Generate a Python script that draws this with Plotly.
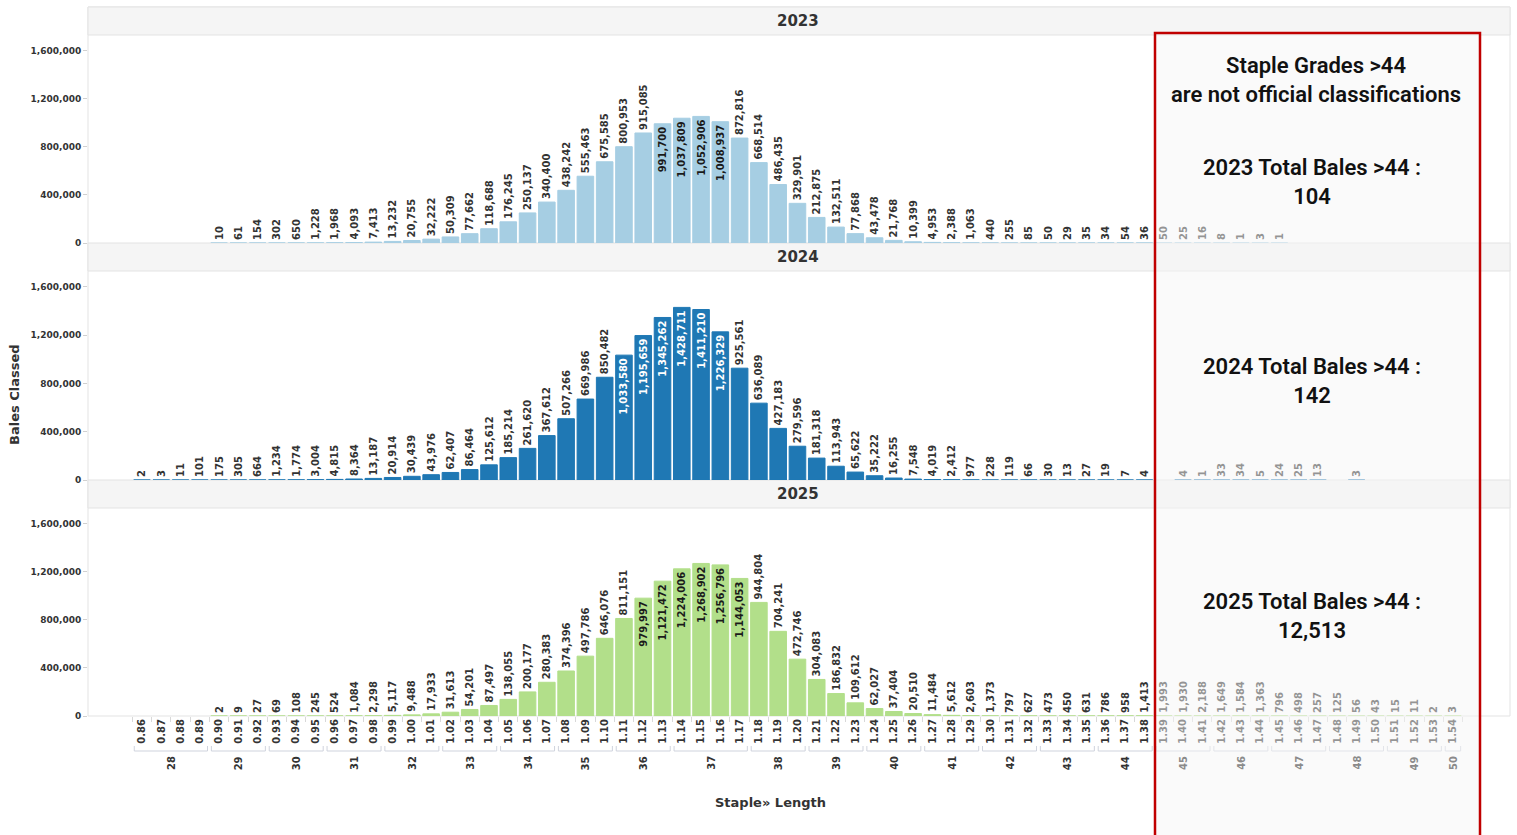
import plotly.graph_objects as go
from plotly.subplots import make_subplots

# ---------------- data ----------------
LENGTHS = ["0.86", "0.87", "0.88", "0.89", "0.90", "0.91", "0.92", "0.93", "0.94", "0.95",
           "0.96", "0.97", "0.98", "0.99", "1.00", "1.01", "1.02", "1.03", "1.04", "1.05",
           "1.06", "1.07", "1.08", "1.09", "1.10", "1.11", "1.12", "1.13", "1.14", "1.15",
           "1.16", "1.17", "1.18", "1.19", "1.20", "1.21", "1.22", "1.23", "1.24", "1.25",
           "1.26", "1.27", "1.28", "1.29", "1.30", "1.31", "1.32", "1.33", "1.34", "1.35",
           "1.36", "1.37", "1.38", "1.39", "1.40", "1.41", "1.42", "1.43", "1.44", "1.45",
           "1.46", "1.47", "1.48", "1.49", "1.50", "1.51", "1.52", "1.53", "1.54"]

STAPLE = [28, 28, 28, 28, 29, 29, 29, 30, 30, 30,
          31, 31, 31, 32, 32, 32, 33, 33, 33, 34,
          34, 34, 35, 35, 35, 36, 36, 36, 37, 37,
          37, 37, 38, 38, 38, 39, 39, 39, 40, 40,
          40, 41, 41, 41, 42, 42, 42, 43, 43, 43,
          44, 44, 44, 45, 45, 45, 46, 46, 46, 47,
          47, 47, 48, 48, 48, 49, 49, 49, 50]

YEARS = ["2023", "2024", "2025"]

BALES_2023 = [None, None, None, None, 10, 61, 154, 302, 650, 1228,
              1968, 4093, 7413, 13232, 20755, 32222, 50309, 77662, 118688, 176245,
              250137, 340400, 438242, 555463, 675585, 800953, 915085, 991700, 1037809, 1052906,
              1008937, 872816, 668514, 486435, 329901, 212875, 132511, 77868, 43478, 21768,
              10399, 4953, 2388, 1063, 440, 255, 85, 50, 29, 35,
              34, 54, 36, 50, 25, 16, 8, 1, 3, 1,
              None, None, None, None, None, None, None, None, None]

BALES_2024 = [2, 3, 11, 101, 175, 305, 664, 1234, 1774, 3004,
              4815, 8364, 13187, 20914, 30439, 43976, 62407, 86464, 125612, 185214,
              261620, 367612, 507266, 669986, 850482, 1033580, 1195659, 1345262, 1428711, 1411210,
              1226329, 925561, 636089, 427183, 279596, 181318, 113943, 65622, 35222, 16255,
              7548, 4019, 2412, 977, 228, 119, 66, 30, 13, 27,
              19, 7, 4, None, 4, 1, 33, 34, 5, 24,
              25, 13, None, 3, None, None, None, None, None]

BALES_2025 = [None, None, None, None, 2, 9, 27, 69, 108, 245,
              524, 1084, 2298, 5117, 9488, 17933, 31613, 54201, 87497, 138055,
              200177, 280383, 374396, 497786, 646076, 811151, 979997, 1121472, 1224006, 1268902,
              1256796, 1144053, 944804, 704241, 472746, 304083, 186832, 109612, 62027, 37404,
              20510, 11484, 5612, 2603, 1373, 797, 627, 473, 450, 631,
              786, 958, 1413, 1993, 1930, 2188, 1649, 1584, 1363, 796,
              498, 257, 125, 56, 43, 15, 11, 2, 3]

SERIES = [BALES_2023, BALES_2024, BALES_2025]
Y_TICKS = [0, 400000, 800000, 1200000, 1600000]
OFFICIAL_MAX = 44

# ---------------- style ----------------
COLORS = ["#a6cee3", "#1f78b4", "#b2df8a"]
INSIDE_TEXT = ["#1a1a1a", "#ffffff", "#1a1a1a"]
INSIDE_MIN = 950000
W, H = 1517, 835
L, R, T, B = 88, 1517 - 1510, 35, 835 - 716
PLOT_H = H - T - B
PLOT_W = W - L - R
LABEL_FONT = "DejaVu Sans"
BOX_FONT = dict(family="Roboto", size=22, color="#111111", weight=600)


def py(px):
    return (H - B - px) / PLOT_H


def pxx(px):
    return (px - L) / PLOT_W


ROW_PX = [(35, 243), (271, 480), (508, 716)]
HEAD_PX = [(7, 35), (243, 271), (480, 508)]

fig = make_subplots(rows=3, cols=1, shared_xaxes=True, vertical_spacing=0.04)

for i, (year, vals) in enumerate(zip(YEARS, SERIES)):
    xs = [LENGTHS[k] for k, v in enumerate(vals) if v is not None]
    ys = [v for v in vals if v is not None]
    fig.add_trace(go.Bar(
        x=xs, y=ys,
        text=[f"{v:,}" for v in ys],
        textposition=["inside" if v > INSIDE_MIN else "outside" for v in ys],
        insidetextanchor="end",
        textangle=-90,
        constraintext="none",
        cliponaxis=False,
        insidetextfont=dict(family=LABEL_FONT, size=10, color=INSIDE_TEXT[i], weight="bold"),
        outsidetextfont=dict(family=LABEL_FONT, size=10, color="#333333", weight="bold"),
        marker=dict(color=COLORS[i], line=dict(color=COLORS[i], width=1)),
        name=year, showlegend=False,
        hovertemplate="%{x}: %{y:,}<extra>" + year + "</extra>",
    ), row=i + 1, col=1)

x_range = [-2.8, len(LENGTHS) - 1 + 2.96]
for i in range(3):
    ax = "xaxis" if i == 0 else f"xaxis{i + 1}"
    ay = "yaxis" if i == 0 else f"yaxis{i + 1}"
    top, bot = ROW_PX[i]
    fig.layout[ay].update(
        domain=[py(bot), py(top)], range=[0, 1730000],
        tickvals=Y_TICKS, tickformat=",", showgrid=False, zeroline=False,
        ticks="outside", ticklen=4, tickcolor="#d0d0d0",
        tickfont=dict(family=LABEL_FONT, size=9, color="#333333", weight="bold"),
    )
    fig.layout[ax].update(
        type="category", categoryorder="array", categoryarray=LENGTHS,
        range=x_range, showgrid=False, zeroline=False, showline=False,
    )
    if i < 2:
        fig.layout[ax].update(showticklabels=False, ticks="")
    else:
        fig.layout[ax].update(
            tickangle=-90, ticks="outside", ticklen=5, tickcolor="#d8d8d8",
            tickson="boundaries", tickvals=LENGTHS,
            tickfont=dict(family=LABEL_FONT, size=10, color="#333333", weight="bold"),
        )

shapes = []
annotations = []

# outer frame
shapes.append(dict(type="rect", xref="paper", yref="paper", x0=0, x1=1,
                   y0=py(716), y1=py(7), line=dict(color="#e3e3e3", width=1),
                   fillcolor="rgba(0,0,0,0)", layer="below"))
for i, (h0, h1) in enumerate(HEAD_PX):
    shapes.append(dict(type="rect", xref="paper", yref="paper", x0=0, x1=1,
                       y0=py(h1), y1=py(h0), line=dict(color="#e3e3e3", width=1),
                       fillcolor="#f5f5f5", layer="below"))
    annotations.append(dict(text=f"<b>{YEARS[i]}</b>", xref="paper", yref="paper",
                            x=pxx(798), y=py((h0 + h1) / 2), xanchor="center", yanchor="middle",
                            showarrow=False,
                            font=dict(family=LABEL_FONT, size=15, color="#333333")))

# staple (32nds) group labels with brackets
groups = []
for k, s in enumerate(STAPLE):
    if not groups or groups[-1][0] != s:
        groups.append([s, k, k])
    else:
        groups[-1][2] = k
yb, yt = py(751), py(746)
for s, k0, k1 in groups:
    a, b = k0 - 0.4, k1 + 0.4
    shapes.append(dict(type="path", xref="x3", yref="paper",
                       path=f"M {a},{yt} L {a},{yb} L {b},{yb} L {b},{yt}",
                       line=dict(color="#cfd3dd", width=1)))
    annotations.append(dict(text=f"<b>{s}</b>", xref="x3", yref="paper",
                            x=(k0 + k1) / 2, y=py(754), xanchor="center", yanchor="top",
                            textangle=-90, showarrow=False,
                            font=dict(family=LABEL_FONT, size=10,
                                      color="#333333" if s <= OFFICIAL_MAX else "#8a8a8a")))

# non-official region overlay + red box
shapes.append(dict(type="rect", xref="paper", yref="paper", x0=pxx(1155), x1=pxx(1480),
                   y0=py(850), y1=py(33), fillcolor="rgba(246,246,246,0.5)",
                   line=dict(color="#c00000", width=2.5), layer="above"))

annotations.append(dict(text="Staple Grades >44<br>are not official classifications",
                        xref="paper", yref="paper", x=pxx(1316), y=py(80),
                        xanchor="center", yanchor="middle", showarrow=False, font=BOX_FONT))
box_y = [182, 381, 616]
for i, (year, vals) in enumerate(zip(YEARS, SERIES)):
    total = sum(v for v, s in zip(vals, STAPLE) if v is not None and s > OFFICIAL_MAX)
    annotations.append(dict(text=f"{year} Total Bales >44 :<br>{total:,}",
                            xref="paper", yref="paper", x=pxx(1312), y=py(box_y[i]),
                            xanchor="center", yanchor="middle", showarrow=False,
                            font=BOX_FONT))

# axis titles
annotations.append(dict(text="<b>Bales Classed</b>", xref="paper", yref="paper",
                        x=pxx(14), y=py(395), xanchor="center", yanchor="middle",
                        textangle=-90, showarrow=False,
                        font=dict(family=LABEL_FONT, size=13, color="#333333")))
annotations.append(dict(text="<b>Staple» Length</b>", xref="paper", yref="paper",
                        x=pxx(770), y=py(803), xanchor="center", yanchor="middle",
                        showarrow=False,
                        font=dict(family=LABEL_FONT, size=13, color="#333333")))

fig.update_layout(
    width=W, height=H,
    margin=dict(l=L, r=R, t=T, b=B),
    paper_bgcolor="white", plot_bgcolor="white",
    bargap=0.14,
    shapes=shapes, annotations=annotations,
    font=dict(family=LABEL_FONT),
)

fig.write_html("out.html", config={"displayModeBar": False},
               post_script="document.body.style.margin='0';")
